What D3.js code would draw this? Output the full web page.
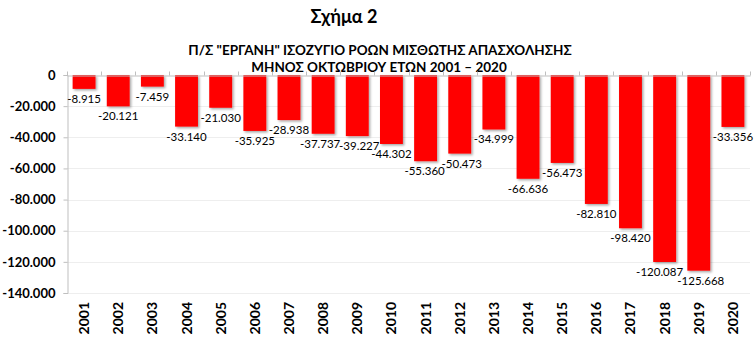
<!DOCTYPE html>
<html>
<head>
<meta charset="utf-8">
<script src="https://cdn.jsdelivr.net/npm/d3@7"></script>
<style>
  body { margin: 0; background: #fff; }
  text { font-family: Lato, "Liberation Sans", Arial, sans-serif; }
</style>
</head>
<body>
<script>
var years = ["2001","2002","2003","2004","2005","2006","2007","2008","2009","2010",
             "2011","2012","2013","2014","2015","2016","2017","2018","2019","2020"];
var balance = [-8915, -20121, -7459, -33140, -21030, -35925, -28938, -37737, -39227, -44302,
               -55360, -50473, -34999, -66636, -56473, -82810, -98420, -120087, -125668, -33356];
var yTicks = [0, -20000, -40000, -60000, -80000, -100000, -120000, -140000];

var svgWidth = 756, svgHeight = 352;
var margin = {left: 67, right: 6, top: 75, bottom: 59};

var loc = d3.formatLocale({decimal: ",", thousands: ".", grouping: [3], currency: ["", "€"], minus: "-"});
var fmt = loc.format(",");

var svg = d3.select("body").append("svg")
    .attr("width", svgWidth)
    .attr("height", svgHeight);

var defs = svg.append("defs");
var f = defs.append("filter").attr("id", "shadow").attr("x", "-20%").attr("y", "-20%").attr("width", "150%").attr("height", "150%");
f.append("feDropShadow").attr("dx", 1.5).attr("dy", 1.5).attr("stdDeviation", 0.8)
    .attr("flood-color", "#000").attr("flood-opacity", 0.35);

// titles
svg.append("text").attr("x", 344).attr("y", 23)
    .attr("text-anchor", "middle").attr("font-weight", "bold").attr("font-size", 18)
    .text("Σχήμα 2");
svg.append("text").attr("x", 380).attr("y", 55)
    .attr("text-anchor", "middle").attr("font-weight", "bold").attr("font-size", 13.5)
    .text("Π/Σ \"ΕΡΓΑΝΗ\" ΙΣΟΖΥΓΙΟ ΡΟΩΝ ΜΙΣΘΩΤΗΣ ΑΠΑΣΧΟΛΗΣΗΣ");
svg.append("text").attr("x", 379).attr("y", 72)
    .attr("text-anchor", "middle").attr("font-weight", "bold").attr("font-size", 13.5)
    .text("ΜΗΝΟΣ ΟΚΤΩΒΡΙΟΥ ΕΤΩΝ 2001 – 2020");

var x = d3.scaleBand()
    .domain(years)
    .range([margin.left, svgWidth - margin.right])
    .paddingInner(0.33)
    .paddingOuter(0.165);

var y = d3.scaleLinear()
    .domain([0, -140000])
    .range([margin.top, svgHeight - margin.bottom]);

// gridlines
svg.append("g")
    .selectAll("line")
    .data(yTicks.slice(1))
    .enter().append("line")
    .attr("x1", margin.left).attr("x2", svgWidth - margin.right)
    .attr("y1", d => Math.round(y(d)) + 0.5).attr("y2", d => Math.round(y(d)) + 0.5)
    .attr("stroke", "#eeeeee");

// y axis
var yAxis = d3.axisLeft(y).tickValues(yTicks).tickFormat(fmt).tickSize(4).tickPadding(8);
var gy = svg.append("g")
    .attr("transform", "translate(" + (margin.left + 0.5) + ",0)")
    .call(yAxis);
gy.select(".domain").attr("stroke", "#bfbfbf");
gy.selectAll(".tick line").attr("stroke", "#bfbfbf");
gy.selectAll("text").attr("font-size", 13).attr("font-weight", "bold").attr("fill", "#000")
    .attr("font-family", "Lato, Liberation Sans, Arial, sans-serif");

// bars
svg.append("g")
    .selectAll("rect")
    .data(balance)
    .enter().append("rect")
    .attr("x", (d, i) => x(years[i]))
    .attr("y", y(0))
    .attr("width", x.bandwidth())
    .attr("height", d => y(d) - y(0))
    .attr("fill", "#ff0000")
    .attr("filter", "url(#shadow)");

// x axis at zero
var xAxis = d3.axisTop(x).tickSize(0).tickFormat("");
var gx = svg.append("g")
    .attr("transform", "translate(0," + (Math.round(y(0)) + 0.5) + ")")
    .call(xAxis);
gx.select(".domain").attr("stroke", "#bfbfbf");
var step = x.step();
gx.selectAll(".sep")
    .data(d3.range(years.length + 1))
    .enter().append("line")
    .attr("x1", i => Math.round(margin.left + i * step) + 0.5)
    .attr("x2", i => Math.round(margin.left + i * step) + 0.5)
    .attr("y1", -4).attr("y2", 0)
    .attr("stroke", "#bfbfbf");

// year labels
svg.append("g")
    .selectAll("text")
    .data(years)
    .enter().append("text")
    .attr("transform", d => "translate(" + (x(d) + x.bandwidth() / 2 + 5) + "," + 302 + ") rotate(-90)")
    .attr("text-anchor", "end")
    .attr("font-size", 14)
    .attr("font-weight", "bold")
    .text(d => d);

// value labels (a few nudged sideways like the original, to keep them apart)
var nudge = {7: -3, 8: 2, 10: -1, 11: 2, 17: -5, 18: 2};
svg.append("g")
    .selectAll("text")
    .data(balance)
    .enter().append("text")
    .attr("x", (d, i) => x(years[i]) + x.bandwidth() / 2 + (nudge[i] || 0))
    .attr("y", d => y(d) + 14)
    .attr("text-anchor", "middle")
    .attr("font-size", 11.5)
    .attr("fill", "#000")
    .text(d => fmt(d));
</script>
</body>
</html>
